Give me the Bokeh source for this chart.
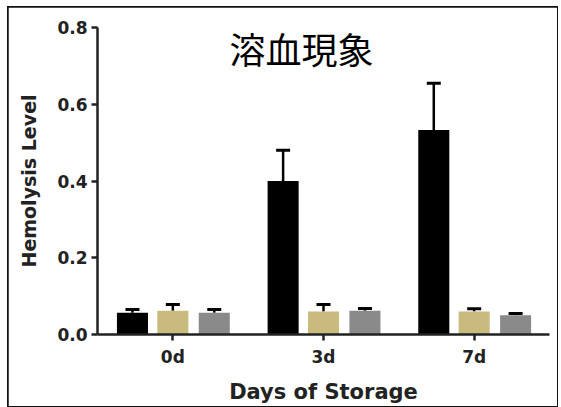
from bokeh.plotting import figure
from bokeh.models import (ColumnDataSource, FactorRange, Range1d, FixedTicker,
                          Whisker, TeeHead, Label, NumeralTickFormatter)
from bokeh.transform import dodge
from bokeh.embed import file_html
from bokeh.resources import INLINE

# ---- data ----
days = ["0d", "3d", "7d"]
group_a = [0.057, 0.400, 0.533]      # black
group_a_err = [0.065, 0.480, 0.655]
group_b = [0.062, 0.060, 0.060]      # khaki
group_b_err = [0.078, 0.078, 0.067]
group_c = [0.057, 0.062, 0.050]      # gray
group_c_err = [0.065, 0.068, 0.055]
y_ticks = [0.0, 0.2, 0.4, 0.6, 0.8]

title_text = "溶血現象"
x_label = "Days of Storage"
y_label = "Hemolysis Level"

series = [
    (group_a, group_a_err, "#000000", -0.268),
    (group_b, group_b_err, "#c9ba7e", 0.0),
    (group_c, group_c_err, "#8a8a8a", 0.275),
]

p = figure(width=549, height=399, x_range=FactorRange(*days, range_padding=0),
           y_range=Range1d(0, 0.8), output_backend="svg", toolbar_location=None,
           min_border_left=89, min_border_right=8, min_border_top=20,
           min_border_bottom=72)
p.outline_line_color = None
p.xgrid.grid_line_color = None
p.ygrid.grid_line_color = None
p.styles = {"outline": "2px solid #111111", "outline-offset": "-1px",
            "margin-left": "8px", "margin-top": "7px"}

for vals, errs, color, off in series:
    src = ColumnDataSource(dict(day=days, value=vals, upper=errs))
    xd = dodge("day", off, range=p.x_range)
    p.add_layout(Whisker(source=src, base=xd, upper="upper", lower="value",
                         lower_head=None,
                         upper_head=TeeHead(size=14, line_width=3, line_color="#000000"),
                         line_width=2.5, line_color="#000000"))
    p.vbar(x=xd, top="value", bottom=0, width=0.206, source=src,
           fill_color=color, line_color=None)

for ax in (p.xaxis[0], p.yaxis[0]):
    ax.axis_line_width = 2.5
    ax.axis_line_color = "#222222"
    ax.major_tick_line_width = 2.5
    ax.major_tick_line_color = "#222222"
    ax.major_tick_in = 0
    ax.major_tick_out = 6
    ax.minor_tick_line_color = None
    ax.major_label_text_font = "DejaVu Sans"
    ax.major_label_text_font_style = "bold"
    ax.major_label_text_font_size = "17px"
    ax.major_label_text_color = "#222222"
    ax.axis_label_text_font = "DejaVu Sans"
    ax.axis_label_text_font_style = "bold"
    ax.axis_label_text_color = "#222222"

p.yaxis[0].axis_label_text_font_size = "19px"
p.xaxis[0].axis_label_text_font_size = "21px"
p.yaxis[0].ticker = FixedTicker(ticks=y_ticks)
p.yaxis[0].formatter = NumeralTickFormatter(format="0.0")
p.yaxis[0].axis_label = y_label
p.yaxis[0].major_label_standoff = 4
p.yaxis[0].axis_label_standoff = 14
p.xaxis[0].axis_label = x_label
p.xaxis[0].major_label_standoff = 6
p.xaxis[0].axis_label_standoff = 10

p.add_layout(Label(x=204, y=287, x_units="screen", y_units="screen",
                   text=title_text, text_font="Noto Sans CJK JP",
                   text_font_size="36px", text_align="center",
                   text_baseline="middle", text_color="#000000"))

open("out.html", "w").write(file_html(p, INLINE))
